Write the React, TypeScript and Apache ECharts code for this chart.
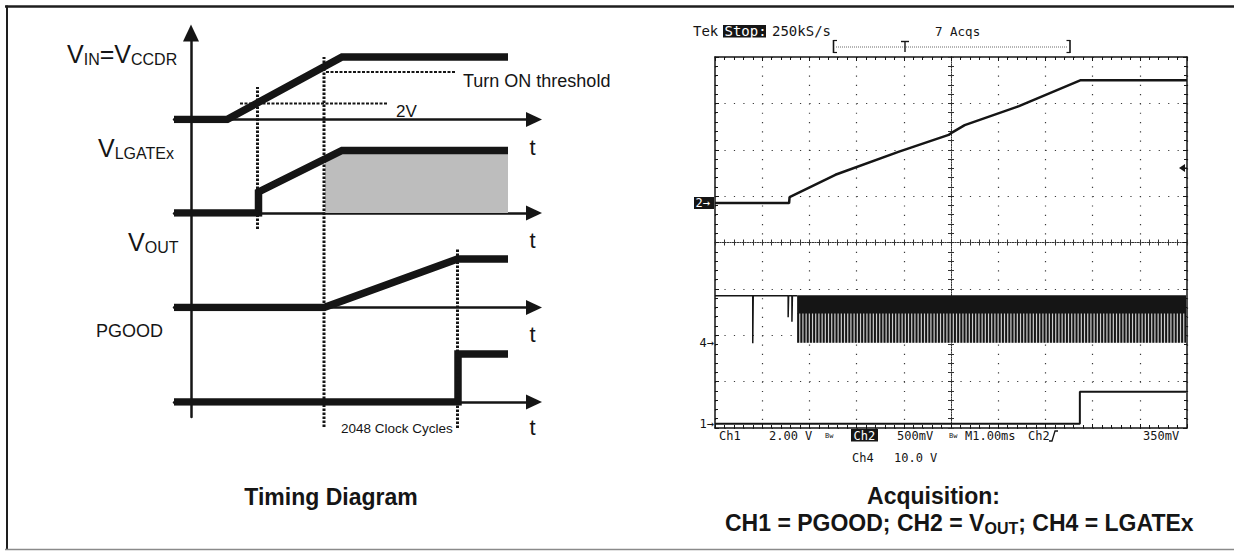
import React, { useEffect, useRef } from 'react';
import * as echarts from 'echarts';

const INK = '#151515';
const SANS = '"Liberation Sans", Arial, Helvetica, sans-serif';
const MONO = '"DejaVu Sans Mono", "Liberation Mono", monospace';

// ---------------- Timing diagram (left) ----------------
// time in arbitrary units (0 = vertical axis), level in arbitrary units per channel
const timeExtent = [-1.7, 34.3];
const levelExtent = [0, 8];
const overallLevelExtent = [0, 38.4];
const vinTrace = [[-1.7, 0], [3.6, 0], [15.1, 6.25], [31.7, 6.25]];
const vinTurnOnThreshold = [[13.5, 4.75], [26.4, 4.75]];
const vinTwoVolt = [[4.9, 1.6], [19.7, 1.6]];
const lgateTrace = [[-1.7, 0], [6.75, 0], [6.75, 2.1], [15.1, 6.25], [31.7, 6.25]];
const lgateSwitching = [[13.4, 5.4], [15.1, 6.25], [31.7, 6.25]];
const voutTrace = [[-1.7, 0], [13.3, 0], [26.65, 4.85], [31.7, 4.85]];
const pgoodTrace = [[-1.7, 0], [26.7, 0], [26.7, 4.8], [31.7, 4.8]];
const eventMarker1 = [[6.65, 18.8], [6.65, 33.0]];
const eventMarker2 = [[13.3, -1.0], [13.3, 36.0]];
const eventMarker3 = [[26.65, -1.1], [26.65, 16.9]];

// ---------------- Scope capture (right) ----------------
// x in divisions (M 1.00 ms/div), y in divisions from bottom of screen
const scopeXExtent = [0, 10];
const scopeYExtent = [0, 8];
const ch2Vout = [[0, 4.85], [1.57, 4.85], [1.58, 4.98], [2.55, 5.46], [3.9, 5.96], [4.95, 6.32], [5.02, 6.37], [5.29, 6.53], [6.44, 6.94], [7.75, 7.5], [10, 7.5]];
const ch4LgateBefore = [[0, 2.85], [0.8, 2.85], [0.8, 1.83], [0.81, 2.85], [1.55, 2.85], [1.55, 2.39], [1.56, 2.85], [1.63, 2.85], [1.63, 2.29], [1.64, 2.85], [1.74, 2.85]];
const ch4BurstX = [1.74, 9.98];
const ch4BurstLevels = [1.84, 2.48, 2.85]; // low, comb top, high
const ch1Pgood = [[0, 0.09], [7.73, 0.09], [7.73, 0.78], [9.98, 0.78]];

// ---------------- helpers ----------------
function label(text: string, x: number, baseline: number, size: number, o: any = {}) {
  return {
    type: 'text', x, y: baseline - 0.3465 * size, z: 100, silent: true,
    style: {
      text, fill: o.fill ?? INK, fontSize: size, fontFamily: o.family ?? SANS,
      fontWeight: o.weight ?? 'normal', align: o.align ?? 'left', verticalAlign: 'middle',
      textAlign: o.align ?? 'left', textVerticalAlign: 'middle',
    },
  };
}
function labelMid(text: string, x: number, mid: number, size: number, o: any = {}) {
  return label(text, x, mid + 0.3465 * size, size, o);
}
function rect(x: number, y: number, w: number, h: number, fill: string) {
  return { type: 'rect', z: 99, silent: true, shape: { x, y, width: w, height: h }, style: { fill } };
}
function seg(x1: number, y1: number, x2: number, y2: number, stroke: string, lineWidth: number, lineDash?: number[]) {
  return { type: 'line', z: 60, silent: true, shape: { x1, y1, x2, y2 }, style: { stroke, lineWidth, lineDash } };
}
const off = { show: false };
function hiddenAxis(gridIndex: number, ext: number[]) {
  return { type: 'value', gridIndex, min: ext[0], max: ext[1], show: false, axisLine: { show: false, onZero: false }, axisTick: off, axisLabel: off, splitLine: off };
}
function arrowXAxis(gridIndex: number) {
  return {
    type: 'value', gridIndex, min: timeExtent[0], max: timeExtent[1], position: 'bottom',
    axisLine: { show: true, onZero: false, symbol: ['none', 'triangle'], symbolSize: [15, 16], lineStyle: { color: INK, width: 2.5 } },
    axisTick: off, axisLabel: off, splitLine: off,
  };
}
const edgeTick = { show: true, inside: true, length: 4, lineStyle: { color: INK, width: 1 } };
const edgeMinor = { show: true, splitNumber: 5, length: 3, lineStyle: { color: INK, width: 1 } };
function scopeX(position: string, extra: any = {}) {
  return {
    type: 'value', gridIndex: 5, min: scopeXExtent[0], max: scopeXExtent[1], interval: 1, position,
    axisLine: { show: true, onZero: false, lineStyle: { color: INK, width: 1.5 } },
    axisTick: edgeTick, minorTick: edgeMinor, axisLabel: off, splitLine: off, ...extra,
  };
}
function scopeY(position: string, extra: any = {}) {
  return {
    type: 'value', gridIndex: 5, min: scopeYExtent[0], max: scopeYExtent[1], interval: 1, position,
    axisLine: { show: true, onZero: false, lineStyle: { color: INK, width: 1.5 } },
    axisTick: edgeTick, minorTick: edgeMinor, axisLabel: off, splitLine: off, ...extra,
  };
}
const centerLine = { show: true, onZero: false, lineStyle: { color: '#333', width: 1, type: [1, 1.5] } };
function centerTicks(inside: boolean) {
  return {
    axisLine: centerLine,
    axisTick: { show: true, inside, length: 3, lineStyle: { color: '#333', width: 1 } },
    minorTick: { show: true, splitNumber: 5, length: 3, lineStyle: { color: '#333', width: 1 } },
  };
}
function ln(data: any, xi: number, yi: number, lineStyle: any, extra: any = {}) {
  return { type: 'line', data, xAxisIndex: xi, yAxisIndex: yi, symbol: 'none', silent: true, lineStyle, emphasis: { disabled: true }, ...extra };
}

const SCOPE_H = 371;
const SCOPE_W = 472;

function buildOption() {
  const thick = { width: 7.5, color: INK, cap: 'butt', join: 'miter' };
  const dotted = { width: 2, color: INK, type: [3, 1.5] };
  const marker = { width: 3, color: INK, type: [2.5, 1.5] };
  const chanAxisY = [119.5, 213, 307.5, 402];
  const pxPerDivY = SCOPE_H / (scopeYExtent[1] - scopeYExtent[0]);

  const grid = [
    { left: 174, top: 33, width: 360, height: 384, outerBoundsMode: 'none' },
    ...chanAxisY.map((y) => ({ left: 174, top: y - 80, width: 360, height: 80, outerBoundsMode: 'none' })),
    { left: 715, top: 57, width: SCOPE_W, height: SCOPE_H, outerBoundsMode: 'none' },
  ];

  const xAxis = [
    hiddenAxis(0, timeExtent),
    arrowXAxis(1), arrowXAxis(2), arrowXAxis(3), arrowXAxis(4),
    scopeX('bottom', { splitLine: { show: true, lineStyle: { color: '#3a3a3a', width: 1.2, type: [1.2, 8.075] } } }),
    scopeX('top'),
    scopeX('bottom', { offset: -SCOPE_H / 2, ...centerTicks(false) }),
    scopeX('bottom', { offset: -SCOPE_H / 2, ...centerTicks(true) }),
  ];
  const yAxis = [
    {
      type: 'value', gridIndex: 0, min: overallLevelExtent[0], max: overallLevelExtent[1],
      axisLine: { show: true, onZero: true, symbol: ['none', 'triangle'], symbolSize: [16, 17], lineStyle: { color: INK, width: 2.5 } },
      axisTick: off, axisLabel: off, splitLine: off,
    },
    hiddenAxis(1, levelExtent), hiddenAxis(2, levelExtent), hiddenAxis(3, levelExtent), hiddenAxis(4, levelExtent),
    scopeY('left', { splitLine: { show: true, lineStyle: { color: '#3a3a3a', width: 1.2, type: [1.2, 8.24] } } }),
    scopeY('right'),
    scopeY('left', { offset: -SCOPE_W / 2, ...centerTicks(false) }),
    scopeY('left', { offset: -SCOPE_W / 2, ...centerTicks(true) }),
  ];

  const [lo, mid, hi] = ch4BurstLevels;
  const combBand = ch4BurstX.map((x) => [x, (lo + mid) / 2]);
  const solidBand = ch4BurstX.map((x) => [x, (mid + hi) / 2]);

  const series: any[] = [
    ln(lgateSwitching, 2, 2, { width: 0, opacity: 0 }, { areaStyle: { color: '#bdbdbd', opacity: 1 }, z: 1 }),
    ln(vinTrace, 1, 1, thick, { z: 3 }),
    ln(vinTurnOnThreshold, 1, 1, dotted),
    ln(vinTwoVolt, 1, 1, dotted),
    ln(lgateTrace, 2, 2, thick, { z: 3 }),
    ln(voutTrace, 3, 3, thick, { z: 3 }),
    ln(pgoodTrace, 4, 4, thick, { z: 3 }),
    ln(eventMarker1, 0, 0, marker, { clip: false, z: 4 }),
    ln(eventMarker2, 0, 0, marker, { clip: false, z: 4 }),
    ln(eventMarker3, 0, 0, marker, { clip: false, z: 4 }),
    // scope
    ln(ch2Vout, 5, 5, { width: 2.5, color: INK }, { z: 5 }),
    ln(ch4LgateBefore, 5, 5, { width: 1.5, color: INK }, { z: 5 }),
    // PWM burst: light backing, dense comb of switching edges, solid upper band
    ln(combBand, 5, 5, { width: (mid - lo) * pxPerDivY, color: '#cfcfcf', cap: 'butt' }, { z: 4 }),
    ln(combBand, 5, 5, { width: (mid - lo) * pxPerDivY, color: INK, cap: 'butt', type: [2, 1.2] }, { z: 5 }),
    ln(solidBand, 5, 5, { width: (hi - mid) * pxPerDivY + 1, color: INK, cap: 'butt' }, { z: 5 }),
    ln(ch1Pgood, 5, 5, { width: 2, color: INK }, { z: 5 }),
  ];

  const graphic: any[] = [
    // outer frame
    seg(5, 6.5, 1234, 6.5, '#1e1e1e', 2.5),
    seg(7, 5.5, 7, 550, '#1e1e1e', 2),
    seg(5, 549.5, 1234, 549.5, '#8a8a8a', 1.5),
    // timing labels
    label('V', 67, 63, 25), label('IN', 83.7, 65, 16), label('=V', 99.7, 63, 25), label('CCDR', 131, 65, 16),
    label('V', 98, 157, 25), label('LGATEx', 114.7, 159, 16),
    label('V', 128, 251, 25), label('OUT', 144.7, 253, 16),
    label('PGOOD', 96, 337, 18),
    ...[155, 248.5, 342, 435].map((b) => label('t', 532.5, b, 22, { align: 'center' })),
    label('Turn ON threshold', 463, 87, 18),
    label('2V', 396, 117, 17),
    label('2048 Clock Cycles', 341, 433, 13.5),
    label('Timing Diagram', 331, 505, 23, { weight: 'bold', align: 'center' }),
    // scope header
    label('Tek', 693, 36, 14, { family: MONO }),
    rect(723, 25, 43, 12.5, INK),
    label('Stop:', 724.5, 36, 14, { family: MONO, fill: '#fff' }),
    label('250kS/s', 772, 36, 14, { family: MONO }),
    label('7 Acqs', 935, 36, 12.5, { family: MONO }),
    seg(833.5, 40, 833.5, 53, INK, 1.6), seg(833.5, 40.5, 837, 40.5, INK, 1.2), seg(833.5, 52.5, 837, 52.5, INK, 1.2),
    seg(836, 47, 1068, 47, '#6a6a6a', 1, [1, 1]),
    seg(901, 41.5, 909, 41.5, INK, 1.4), seg(905, 41.5, 905, 52, INK, 1.4),
    seg(1070, 40, 1070, 53, INK, 1.6), seg(1066.5, 40.5, 1070, 40.5, INK, 1.2), seg(1066.5, 52.5, 1070, 52.5, INK, 1.2),
    // channel markers
    rect(694, 197, 20, 12, INK),
    labelMid('2→', 695.5, 203, 12, { family: MONO, fill: '#fff' }),
    labelMid('4→', 714, 343, 12, { family: MONO, align: 'right' }),
    labelMid('1→', 714, 424, 12, { family: MONO, align: 'right' }),
    { type: 'polygon', z: 60, silent: true, shape: { points: [[1179, 168], [1185, 164], [1185, 172]] }, style: { fill: INK } },
    seg(1185, 168, 1187, 168, INK, 1.2),
    // scope readout
    label('Ch1', 719, 440, 12, { family: MONO }),
    label('2.00 V', 769, 440, 12, { family: MONO }),
    label('Bw', 825, 438, 7, { family: MONO }),
    rect(851, 429, 27, 12.5, INK),
    label('Ch2', 853.5, 440, 12, { family: MONO, fill: '#fff' }),
    label('500mV', 897, 440, 12, { family: MONO }),
    label('Bw', 949, 438, 7, { family: MONO }),
    label('M1.00ms', 965, 440, 12, { family: MONO }),
    label('Ch2', 1028, 440, 12, { family: MONO }),
    { type: 'polyline', z: 60, silent: true, shape: { points: [[1049, 441], [1052, 441], [1055, 431], [1058, 431]] }, style: { stroke: INK, lineWidth: 1.3, fill: 'none' } },
    label('350mV', 1143, 440, 12, { family: MONO }),
    label('Ch4', 852, 462, 12, { family: MONO }),
    label('10.0 V', 894, 462, 12, { family: MONO }),
    // captions
    label('Acquisition:', 933.5, 504, 23, { weight: 'bold', align: 'center' }),
    label('CH1 = PGOOD; CH2 = V', 725, 531, 23, { weight: 'bold' }),
    label('OUT', 984.5, 534, 16, { weight: 'bold' }),
    label('; CH4 = LGATEx', 1018.3, 531, 23, { weight: 'bold' }),
  ];

  return { animation: false, backgroundColor: '#ffffff', grid, xAxis, yAxis, series, graphic };
}

export default function App() {
  const ref = useRef<HTMLDivElement>(null);
  useEffect(() => {
    const chart = echarts.init(ref.current!, undefined, { renderer: 'svg', width: 1234, height: 552 });
    chart.setOption(buildOption() as any);
    return () => chart.dispose();
  }, []);
  return <div ref={ref} style={{ position: 'absolute', left: 0, top: 0, width: 1234, height: 552, background: '#fff' }} />;
}
